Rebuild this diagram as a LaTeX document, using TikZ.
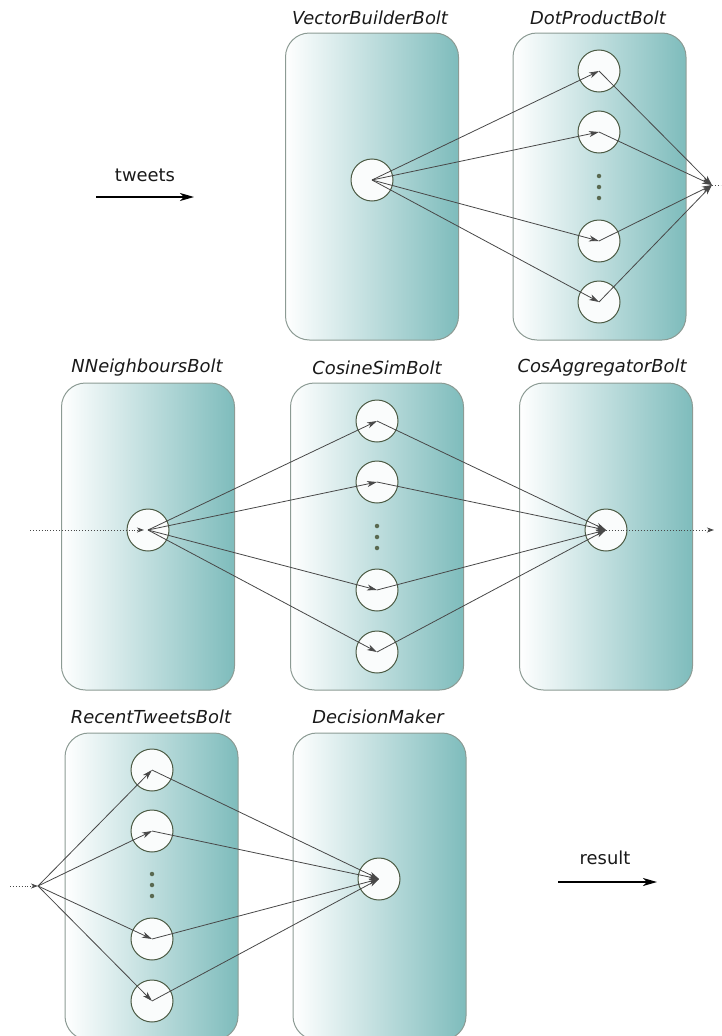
\documentclass[tikz,border=0pt]{standalone}
\usepackage{fontspec}
\setmainfont{DejaVu Sans}
\usetikzlibrary{arrows.meta}
\definecolor{tealR}{RGB}{126,188,188}
\definecolor{boxline}{RGB}{140,155,148}
\definecolor{circline}{RGB}{75,90,67}
\definecolor{dotc}{RGB}{90,105,80}
\definecolor{arrc}{RGB}{72,72,72}
\begin{document}
\begin{tikzpicture}[x=1pt,y=-1pt,
  bolt/.style={draw=boxline, line width=1pt, rounded corners=24pt, left color=white, right color=tealR,
    minimum width=173pt, minimum height=307pt, inner sep=0pt},
  task/.style={circle, draw=circline, fill=white!96!tealR, line width=1pt, minimum size=42pt, inner sep=0pt},
  lbl/.style={font=\fontsize{17.9}{21}\selectfont\itshape, text=black!90, inner sep=0pt},
  plain/.style={font=\fontsize{17.9}{21}\selectfont, text=black!90, inner sep=0pt},
  flow/.style={draw=arrc, line width=0.8pt, -{Stealth[length=10pt,width=6pt,inset=3pt]}},
  dflow/.style={draw=arrc, line width=0.9pt, dotted, -{Stealth[length=7pt,width=5pt,inset=2pt]}},
  bigarrow/.style={draw=black, line width=1.3pt, -{Stealth[length=14pt,width=8pt,inset=4pt]}},
  vdot/.style={circle, fill=dotc, inner sep=0pt, minimum size=4.5pt}
]
\useasboundingbox (0,0) rectangle (721,1036);
\clip (0,0) rectangle (721,1036);

% ---------- top row ----------
\node[bolt] (vbb) at (372,186.5) {};
\node[bolt] (dpb) at (599.5,186.5) {};
\node[lbl] (vbl) at (370,18) {VectorBuilderBolt};
\node[lbl] (dpl) at (598,18) {DotProductBolt};

\node[task] (vb) at (372,180) {};
\node[task] (dp1) at (599,71) {};
\node[task] (dp2) at (599,132) {};
\node[task] (dp3) at (599,241) {};
\node[task] (dp4) at (599,302) {};
\node[vdot] (dpd1) at (599,176) {};
\node[vdot] (dpd2) at (599,187) {};
\node[vdot] (dpd3) at (599,198) {};
\coordinate (dpout) at (712,185);
\coordinate (dpend) at (721,185);

\node[plain] (tw) at (145,175) {tweets};
\coordinate (tw1) at (96,197);
\coordinate (tw2) at (194,197);
\draw[bigarrow] (tw1) -- (tw2);

\foreach \t in {dp1,dp2,dp3,dp4}{
  \draw[flow] (vb.center) -- (\t.center);
  \draw[flow] (\t.center) -- (dpout);
}
\draw[draw=arrc, dotted, line width=0.9pt] (dpout) -- (dpend);

% ---------- middle row ----------
\node[bolt] (nnb) at (148,536.5) {};
\node[bolt] (csb) at (377,536.5) {};
\node[bolt] (cab) at (606,536.5) {};
\node[lbl] (nnl) at (147,368) {NNeighboursBolt};
\node[lbl] (csl) at (377,368) {CosineSimBolt};
\node[lbl] (cal) at (602,368) {CosAggregatorBolt};

\node[task] (nn) at (148,530) {};
\node[task] (cs1) at (377,421) {};
\node[task] (cs2) at (377,482) {};
\node[task] (cs3) at (377,590) {};
\node[task] (cs4) at (377,652) {};
\node[vdot] (csd1) at (377,526) {};
\node[vdot] (csd2) at (377,537) {};
\node[vdot] (csd3) at (377,548) {};
\node[task] (ca) at (606,530) {};
\coordinate (nnin) at (30,530);
\coordinate (nntip) at (144,530);
\coordinate (caout) at (714,530);

\draw[dflow] (nnin) -- (nntip);
\foreach \t in {cs1,cs2,cs3,cs4}{
  \draw[flow] (nn.center) -- (\t.center);
  \draw[flow] (\t.center) -- (ca.center);
}
\draw[dflow] (ca.center) -- (caout);

% ---------- bottom row ----------
\node[bolt] (rtb) at (151.5,886.5) {};
\node[bolt] (dmb) at (379.5,886.5) {};
\node[lbl] (rtl) at (151,717) {RecentTweetsBolt};
\node[lbl] (dml) at (378,717) {DecisionMaker};

\node[task] (rt1) at (152,770) {};
\node[task] (rt2) at (152,831) {};
\node[task] (rt3) at (152,939) {};
\node[task] (rt4) at (152,1001) {};
\node[vdot] (rtd1) at (152,874) {};
\node[vdot] (rtd2) at (152,885) {};
\node[vdot] (rtd3) at (152,896) {};
\node[task] (dm) at (379,879) {};
\coordinate (rtsrc) at (10,886);
\coordinate (rtin) at (38,886);

\draw[dflow] (rtsrc) -- (rtin);
\foreach \t in {rt1,rt2,rt3,rt4}{
  \draw[flow] (rtin) -- (\t.center);
  \draw[flow] (\t.center) -- (dm.center);
}

\node[plain] (res) at (605,858) {result};
\coordinate (rs1) at (558,882);
\coordinate (rs2) at (657,882);
\draw[bigarrow] (rs1) -- (rs2);
\end{tikzpicture}
\end{document}
